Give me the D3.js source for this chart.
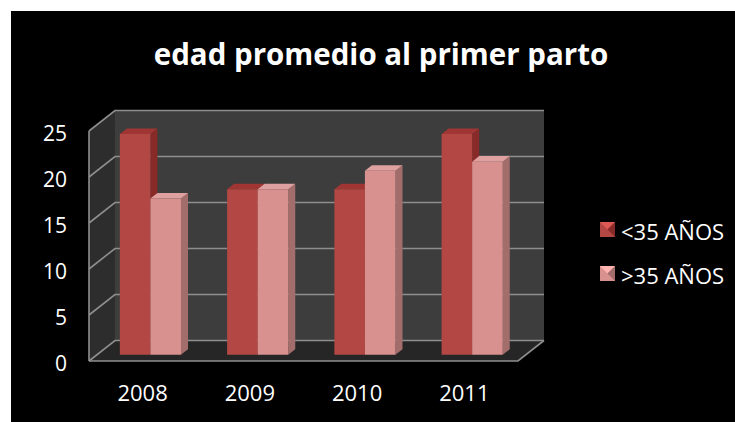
<!DOCTYPE html>
<html>
<head>
<meta charset="utf-8">
<script src="https://cdn.jsdelivr.net/npm/d3@7"></script>
<style>
  html, body { margin: 0; padding: 0; background: #ffffff; }
  svg { display: block; }
</style>
</head>
<body>
<svg id="chart" width="735" height="422"></svg>
<script>
// Data
const categories = ["2008", "2009", "2010", "2011"];
const seriesNames = ["<35 AÑOS", ">35 AÑOS"];
const under35 = [24, 18, 18, 24];
const over35 = [17, 18, 20, 21];
const yTicks = [0, 5, 10, 15, 20, 25];
const titleText = "edad promedio al primer parto";

const seriesValues = [under35, over35];
const palette = [
  { front: "#b34744", side: "#872a28", top: "#9f3633" },
  { front: "#d8918f", side: "#a36d6c", top: "#dfa19f" }
];

const svg = d3.select("#chart");
const font = "'Open Sans', 'DejaVu Sans', sans-serif";

// Black chart frame
svg.append("rect").attr("x", 11).attr("y", 11).attr("width", 724).attr("height", 411).attr("fill", "#000");

// 3D frame geometry: front plane, plus a depth offset toward the back wall
const floorLeft = 89, floorRight = 518;
const DX = 26, DY = -20.5;

const x0 = d3.scaleBand().domain(categories).range([floorLeft, floorRight])
  .paddingInner(0.43).paddingOuter(0.215);
const x1 = d3.scaleBand().domain(d3.range(seriesNames.length)).range([0, x0.bandwidth()]);
const y = d3.scaleLinear().domain([0, 25]).range([361, 131]);

const yMax = y.domain()[1];
const P = (px, py, f) => [px + DX * f, py + DY * f];

// Back wall
svg.append("polygon")
  .attr("points", [P(floorLeft, y(0), 1), P(floorRight, y(0), 1), P(floorRight, y(yMax), 1), P(floorLeft, y(yMax), 1)].join(" "))
  .attr("fill", "#3d3d3d");
// Side wall
svg.append("polygon")
  .attr("points", [P(floorLeft, y(0), 0), P(floorLeft, y(0), 1), P(floorLeft, y(yMax), 1), P(floorLeft, y(yMax), 0)].join(" "))
  .attr("fill", "#2d2d2d");
// Floor
svg.append("polygon")
  .attr("points", [P(floorLeft, y(0), 0), P(floorLeft, y(0), 1), P(floorRight, y(0), 1), P(floorRight, y(0), 0)].join(" "))
  .attr("fill", "#262626");

// Gridlines across side wall and back wall
const grid = svg.append("g").attr("stroke", "#8e8e8e").attr("stroke-width", 1.6).attr("fill", "none");
yTicks.forEach(t => {
  const a = P(floorLeft, y(t), 0), b = P(floorLeft, y(t), 1), c = P(floorRight, y(t), 1);
  grid.append("polyline").attr("points", [a, b, c].join(" "));
});
// Wall outlines
grid.append("polyline").attr("points", [P(floorLeft, y(0), 0), P(floorLeft, y(yMax), 0)].join(" "));
grid.append("polyline").attr("points", [P(floorLeft, y(0), 0), P(floorRight, y(0), 0), P(floorRight, y(0), 1)].join(" "));

// Columns
const f0 = 0.3, f1 = 0.57;
const bars = svg.append("g");
categories.forEach((cat, i) => {
  seriesValues.forEach((vals, s) => {
    const v = vals[i];
    const xl = x0(cat) + x1(s), xr = xl + x1.bandwidth();
    const yb = y(0), yt = y(v);
    const col = palette[s];
    // right side face
    bars.append("polygon")
      .attr("points", [P(xr, yb, f0), P(xr, yb, f1), P(xr, yt, f1), P(xr, yt, f0)].join(" "))
      .attr("fill", col.side);
    // top face
    bars.append("polygon")
      .attr("points", [P(xl, yt, f0), P(xr, yt, f0), P(xr, yt, f1), P(xl, yt, f1)].join(" "))
      .attr("fill", col.top);
    // front face
    bars.append("polygon")
      .attr("points", [P(xl, yb, f0), P(xr, yb, f0), P(xr, yt, f0), P(xl, yt, f0)].join(" "))
      .attr("fill", col.front);
  });
});

// Value axis labels
svg.append("g").selectAll("text").data(yTicks).join("text")
  .attr("x", 67).attr("y", d => y(d) + 2)
  .attr("text-anchor", "end").attr("dominant-baseline", "central")
  .attr("fill", "#fff").attr("font-family", font).attr("font-size", 21)
  .text(d => d);

// Category labels
svg.append("g").selectAll("text").data(categories).join("text")
  .attr("x", d => x0(d) + x0.bandwidth() / 2).attr("y", 392)
  .attr("text-anchor", "middle").attr("dominant-baseline", "central")
  .attr("fill", "#fff").attr("font-family", font).attr("font-size", 22)
  .text(d => d);

// Title
svg.append("text")
  .attr("x", 381).attr("y", 65)
  .attr("text-anchor", "middle")
  .attr("fill", "#fff").attr("font-family", font).attr("font-weight", "bold").attr("font-size", 29.5)
  .text(titleText);

// Legend
const legend = svg.append("g").attr("transform", "translate(600,222)");
seriesNames.forEach((name, s) => {
  const g = legend.append("g").attr("transform", `translate(0,${s * 44})`);
  const col = palette[s];
  g.append("rect").attr("width", 15).attr("height", 15).attr("fill", col.front);
  g.append("polygon").attr("points", "0,0 15,0 7.5,7.5").attr("fill", d3.color(col.front).brighter(0.6));
  g.append("polygon").attr("points", "15,0 15,15 7.5,7.5").attr("fill", col.side);
  g.append("text").attr("x", 21).attr("y", 8.5)
    .attr("dominant-baseline", "central")
    .attr("fill", "#fff").attr("font-family", font).attr("font-size", 22)
    .text(name);
});
</script>
</body>
</html>
